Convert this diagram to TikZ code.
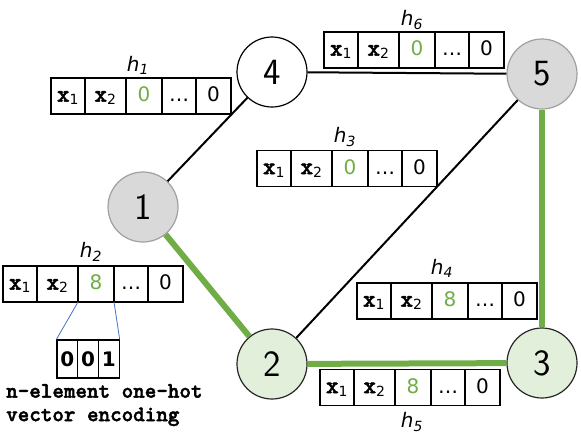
\documentclass[tikz,border=0pt]{standalone}
\usepackage{fontspec}
\usepackage{xcolor}
\usepackage{tikz}
\usetikzlibrary{positioning,calc}
\newfontfamily\cellfont{DejaVu Sans}
\newfontfamily\codefont{lmmonolt10-bold.otf}[FakeBold=2]
\definecolor{hgreen}{HTML}{70AD47}
\definecolor{nodegray}{HTML}{D9D9D9}
\definecolor{bordergray}{HTML}{A0A0A0}
\definecolor{nodegreen}{HTML}{E2EFDA}
\definecolor{zoomblue}{HTML}{4472C4}
\newcommand\xsub[1]{{\codefont\fontsize{24}{24}\selectfont x}\textsubscript{#1}}
\begin{document}
\begin{tikzpicture}[
      x=1pt, y=-1pt,
      vnode/.style={circle, draw, line width=1.2pt, minimum size=70pt, inner sep=0pt,
                    font=\sffamily\fontsize{37}{40}\selectfont},
      graynode/.style={vnode, fill=nodegray, draw=bordergray},
      greennode/.style={vnode, fill=nodegreen, draw=black!85},
      vcell/.style={draw, line width=1.2pt, minimum height=36pt, inner sep=0pt, outer sep=0pt,
                    text height=15pt, text depth=3.6pt, font=\cellfont\fontsize{20}{22}\selectfont},
      ocell/.style={draw, line width=1.2pt, minimum width=20.7pt, minimum height=38pt, inner sep=0pt,
                    font=\cellfont\bfseries\fontsize{20}{22}\selectfont},
      hlabel/.style={font=\cellfont\itshape\fontsize{20}{22}\selectfont},
      edge/.style={line width=2pt},
      pathedge/.style={line width=6pt, draw=hgreen},
    ]
    \useasboundingbox (0,0) rectangle (581,437);

    % --- graph nodes ---
    \node[graynode] (n1) at (143,207) {1};
    \node[greennode] (n2) at (272,364) {2};
    \node[greennode] (n3) at (542,363) {3};
    \node[vnode, fill=white] (n4) at (272,72) {4};
    \node[graynode] (n5) at (542,74) {5};

    % --- edges ---
    \draw[edge] (n4) -- (n1);
    \draw[edge] (n4) -- (n5);
    \draw[edge] (n5) -- (n2);
    \draw[pathedge] (n1) -- (n2);
    \draw[pathedge] (n2) -- (n3);
    \draw[pathedge] (n3) -- (n5);

    % --- hidden vectors ---
    \foreach \nm/\px/\py/\v in {h1/51/96/0, h2/3/284/8, h3/257/168.5/0,
                                h4/357/301/8, h5/320/387.5/8, h6/324/50/0} {
      \node[vcell, minimum width=34pt] (\nm-1) at (\px+17,\py) {\xsub{1}};
      \node[vcell, minimum width=41pt] (\nm-2) at (\px+54.5,\py) {\xsub{2}};
      \node[vcell, minimum width=36pt, text=hgreen] (\nm-3) at (\px+93,\py) {\v};
      \node[vcell, minimum width=34pt] (\nm-4) at (\px+128,\py) {\ldots};
      \node[vcell, minimum width=35pt] (\nm-5) at (\px+162.5,\py) {0};
    }

    % --- labels ---
    \foreach \k/\lx/\ly in {1/138/65, 2/91/252, 3/345/137, 4/442/268, 5/412/422, 6/412/20} {
      \node[hlabel] (lab\k) at (\lx,\ly) {h\textsubscript{\k}};
    }

    % --- one-hot encoding ---
    \foreach \b [count=\i] in {0,0,1} {
      \node[ocell] (oh\i) at (46.65+20.7*\i, 359) {\b};
    }
    \draw[zoomblue, line width=0.8pt] (h2-3.south west) -- (oh1.north west);
    \draw[zoomblue, line width=0.8pt] (h2-3.south east) -- (oh3.north east);

    \node[font=\codefont\fontsize{22}{23.5}\selectfont, align=left,
          anchor=north west, inner sep=0pt] (ohtext) at (6,384) {n-element one-hot\\vector encoding};
  \end{tikzpicture}
\end{document}
